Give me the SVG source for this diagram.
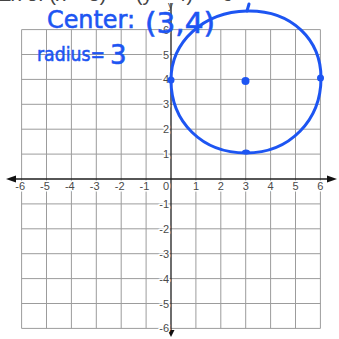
<svg xmlns="http://www.w3.org/2000/svg" width="339" height="339" viewBox="0 0 339 339">
<defs>
<style>
.grid line{stroke:#9c9c9c;stroke-width:1}
.axis{stroke:#1e1e1e;stroke-width:1.3}
.lbl{font-family:"Liberation Sans",Arial,sans-serif;font-size:11px;fill:#4a4a4a;stroke:#fff;stroke-width:3;paint-order:stroke;stroke-linejoin:round}
.hand{font-family:"DejaVu Sans","Liberation Sans",sans-serif;fill:#1d55f2;stroke:#1d55f2;stroke-width:0.6}
.ink{fill:none;stroke:#1d55f2;stroke-width:3;stroke-linecap:round;stroke-linejoin:round}
.dot{fill:#1d55f2}
</style>
</defs>
<rect width="339" height="339" fill="#fff"/>
<text x="-2" y="1" font-family="Liberation Sans,Arial,sans-serif" font-size="20" fill="#444">Ex 5:  (x − 3)² + (y − 4)² = 9</text>
<g id="grid" class="grid">
<line x1="21.6" y1="29.6" x2="21.6" y2="328.4"/>
<line x1="46.5" y1="29.6" x2="46.5" y2="328.4"/>
<line x1="71.4" y1="29.6" x2="71.4" y2="328.4"/>
<line x1="96.3" y1="29.6" x2="96.3" y2="328.4"/>
<line x1="121.2" y1="29.6" x2="121.2" y2="328.4"/>
<line x1="146.1" y1="29.6" x2="146.1" y2="328.4"/>
<line x1="195.9" y1="29.6" x2="195.9" y2="328.4"/>
<line x1="220.8" y1="29.6" x2="220.8" y2="328.4"/>
<line x1="245.7" y1="29.6" x2="245.7" y2="328.4"/>
<line x1="270.6" y1="29.6" x2="270.6" y2="328.4"/>
<line x1="295.5" y1="29.6" x2="295.5" y2="328.4"/>
<line x1="320.4" y1="29.6" x2="320.4" y2="328.4"/>
<line x1="21.6" y1="29.6" x2="320.4" y2="29.6"/>
<line x1="21.6" y1="54.5" x2="320.4" y2="54.5"/>
<line x1="21.6" y1="79.4" x2="320.4" y2="79.4"/>
<line x1="21.6" y1="104.3" x2="320.4" y2="104.3"/>
<line x1="21.6" y1="129.2" x2="320.4" y2="129.2"/>
<line x1="21.6" y1="154.1" x2="320.4" y2="154.1"/>
<line x1="21.6" y1="203.9" x2="320.4" y2="203.9"/>
<line x1="21.6" y1="228.8" x2="320.4" y2="228.8"/>
<line x1="21.6" y1="253.7" x2="320.4" y2="253.7"/>
<line x1="21.6" y1="278.6" x2="320.4" y2="278.6"/>
<line x1="21.6" y1="303.5" x2="320.4" y2="303.5"/>
<line x1="21.6" y1="328.4" x2="320.4" y2="328.4"/>
</g>
<g id="axes">
<line class="axis" x1="12" y1="179" x2="331" y2="179"/>
<line class="axis" x1="171" y1="3" x2="171" y2="331"/>
<polygon points="6,179 16,175.5 16,182.5" fill="#111"/>
<polygon points="337,179 327,175.5 327,182.5" fill="#111"/>
<polygon points="171,337 167.5,330 174.5,330" fill="#111"/>
<text x="168" y="9" font-family="Liberation Sans,Arial,sans-serif" font-size="10" fill="#444">y</text>
</g>
<g id="xlabels" class="lbl">
<text x="25" y="190" text-anchor="end">-6</text>
<text x="49.8" y="190" text-anchor="end">-5</text>
<text x="74.7" y="190" text-anchor="end">-4</text>
<text x="99.6" y="190" text-anchor="end">-3</text>
<text x="124.5" y="190" text-anchor="end">-2</text>
<text x="149.4" y="190" text-anchor="end">-1</text>
<text x="196" y="190" text-anchor="middle">1</text>
<text x="220.8" y="190" text-anchor="middle">2</text>
<text x="245.7" y="190" text-anchor="middle">3</text>
<text x="270.6" y="190" text-anchor="middle">4</text>
<text x="295.5" y="190" text-anchor="middle">5</text>
<text x="320.4" y="190" text-anchor="middle">6</text>
<text x="169" y="190" text-anchor="end">0</text>
</g>
<g id="ylabels" class="lbl">
<text x="169" y="33.6" text-anchor="end">6</text>
<text x="169" y="58.5" text-anchor="end">5</text>
<text x="169" y="83.4" text-anchor="end">4</text>
<text x="169" y="108.3" text-anchor="end">3</text>
<text x="169" y="133.2" text-anchor="end">2</text>
<text x="169" y="158.1" text-anchor="end">1</text>
<text x="169" y="207.9" text-anchor="end">-1</text>
<text x="169" y="232.8" text-anchor="end">-2</text>
<text x="169" y="257.7" text-anchor="end">-3</text>
<text x="169" y="282.6" text-anchor="end">-4</text>
<text x="169" y="307.5" text-anchor="end">-5</text>
<text x="169" y="332.4" text-anchor="end">-6</text>
</g>
<g id="circle">
<path class="ink" d="M171,80 C171,42 203,12 247,11 C292,10 321,40 321,78 C321,120 290,153 246,153 C202,153 171,122 171,80 Z"/>
<path class="ink" d="M247,11 L249,4"/>
<circle class="dot" cx="171" cy="80" r="3.5"/>
<circle class="dot" cx="320.5" cy="78" r="3.5"/>
<circle class="dot" cx="245.5" cy="81" r="4"/>
<ellipse class="dot" cx="246" cy="152" rx="4" ry="2.5"/>
</g>
<g id="notes">
<text class="hand" x="47" y="28" font-size="25" textLength="88" lengthAdjust="spacingAndGlyphs">Center:</text>
<text class="hand" x="145" y="33" font-size="28" textLength="70" lengthAdjust="spacingAndGlyphs">(3,4)</text>
<text class="hand" x="37" y="61" font-size="20" textLength="68" lengthAdjust="spacingAndGlyphs">radius=</text>
<text class="hand" x="110" y="64" font-size="26">3</text>
</g>
</svg>
